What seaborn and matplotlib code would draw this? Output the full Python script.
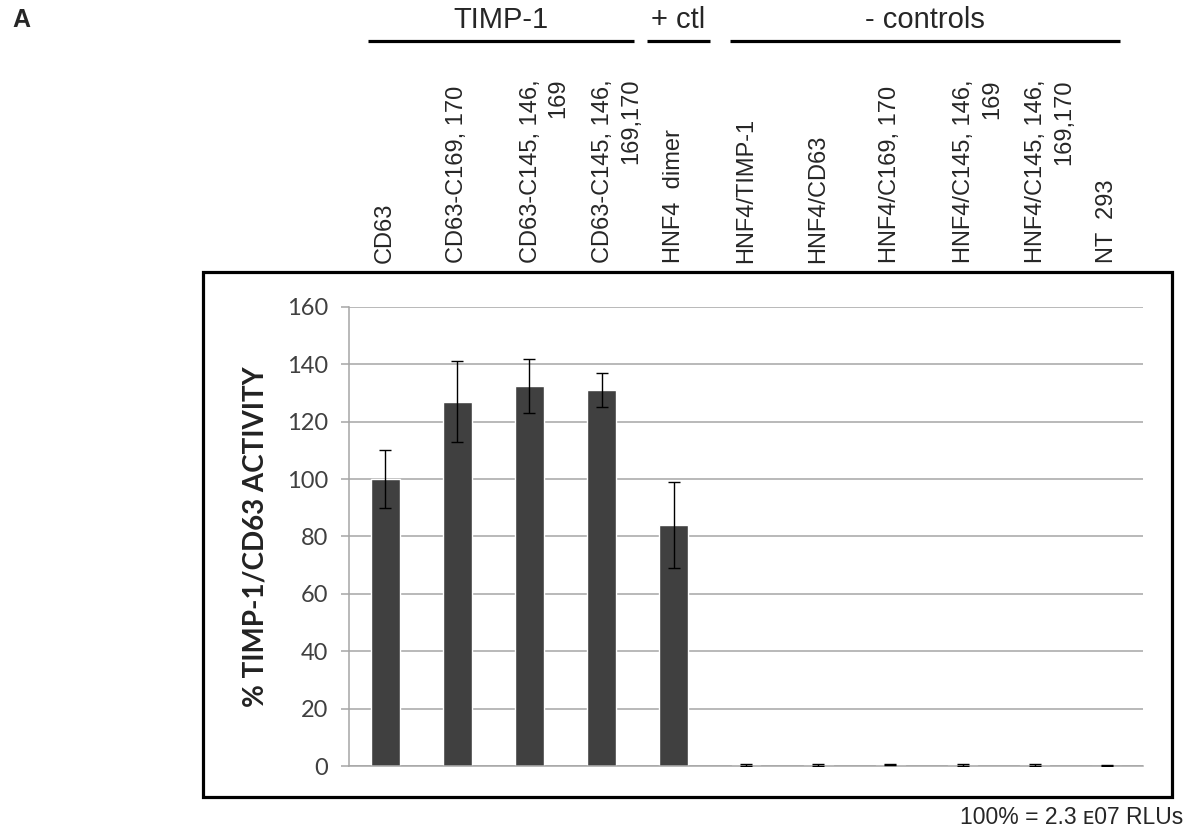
import numpy as np
import pandas as pd
import matplotlib
matplotlib.use('Agg')
from matplotlib import pyplot as plt
import matplotlib.transforms as mtransforms
from matplotlib.patches import Rectangle
import seaborn as sns

# data
samples = ['CD63', 'CD63-C169, 170', 'CD63-C145, 146,\n169', 'CD63-C145, 146,\n169,170',
           'HNF4  dimer', 'HNF4/TIMP-1', 'HNF4/CD63', 'HNF4/C169, 170',
           'HNF4/C145, 146,\n169', 'HNF4/C145, 146,\n169,170', 'NT  293']
activity = [100, 127, 132.5, 131, 84, 0.4, 0.4, 0.5, 0.4, 0.4, 0.1]
activity_err = [10, 14, 9.5, 6, 15, 0.3, 0.3, 0.3, 0.3, 0.3, 0.1]
groups = ['TIMP-1', '+ ctl', '- controls']
group_spans = [(-0.24, 3.45), (3.63, 4.5), (4.78, 10.18)]
yticks = [0, 20, 40, 60, 80, 100, 120, 140, 160]

df = pd.DataFrame({'sample': samples, 'activity': activity, 'err': activity_err})

sns.set_style('white')
plt.rcParams['font.family'] = ['Liberation Sans', 'DejaVu Sans']

barCol = '#404040'
gridCol = '#a6a6a6'

fig = plt.figure(figsize=(11.96, 8.33), dpi=100)
ax = fig.add_axes([0.2918, 0.0804, 0.6639, 0.5511])

sns.barplot(data=df, x='sample', y='activity', color=barCol, saturation=1,
            width=0.4, errorbar=None, ax=ax)
ax.errorbar(np.arange(len(samples)), df['activity'], yerr=df['err'], fmt='none',
            ecolor='black', elinewidth=1.0, capsize=4.3, capthick=1.0, zorder=5)

ax.set_ylim(0, 160)
ax.set_xlim(-0.5, len(samples) - 0.5)
ax.set_yticks(yticks)
ax.yaxis.grid(True, color=gridCol, linewidth=1.1)
ax.set_axisbelow(True)
for side in ['top', 'right']:
    ax.spines[side].set_visible(False)
ax.spines['left'].set_color(gridCol)
ax.spines['bottom'].set_color(gridCol)
ax.spines['left'].set_linewidth(1.1)
ax.spines['bottom'].set_linewidth(1.1)
ax.tick_params(axis='y', left=True, length=6, width=1.1, color=gridCol, pad=9,
               labelsize=17, labelcolor='#404040')
for lab in ax.get_yticklabels():
    lab.set_family('Lato')

# sample names sit above the chart
ax.xaxis.tick_top()
ax.tick_params(axis='x', length=0, pad=32, labelsize=17, labelrotation=90)
shift = mtransforms.ScaledTranslation(11 / 72, 0, fig.dpi_scale_trans)
for lab in ax.get_xticklabels():
    lab.set_multialignment('right')
    lab.set_linespacing(1.35)
    if '\n' in lab.get_text():
        lab.set_transform(lab.get_transform() + shift)
ax.set_xlabel('')

ax.set_ylabel('% TIMP-1/CD63 ACTIVITY', fontsize=20, fontweight='bold',
              family='Lato', color='#222222')
ax.yaxis.set_label_coords(-0.102, 0.5)

# group headers
trans = mtransforms.blended_transform_factory(ax.transData, fig.transFigure)
for name, (x0, x1) in zip(groups, group_spans):
    ax.plot([x0, x1], [0.9508, 0.9508], transform=trans, color='black',
            linewidth=2.3, clip_on=False, solid_capstyle='butt')
    ax.text((x0 + x1) / 2, 0.976, name, transform=trans, ha='center', va='center',
            fontsize=21)

# frame around the plot
fig.patches.append(Rectangle((0.1697, 0.0432), 0.8102, 0.6303, transform=fig.transFigure,
                             fill=False, edgecolor='black', linewidth=2.3))

fig.text(0.010, 0.976, 'A', fontsize=18, fontweight='bold', va='center', ha='left')
fig.text(0.989, 0.019, '100% = 2.3 \u1d0707 RLUs', fontsize=16.5, ha='right', va='center')

plt.savefig('out.png', dpi=100)
plt.close()
